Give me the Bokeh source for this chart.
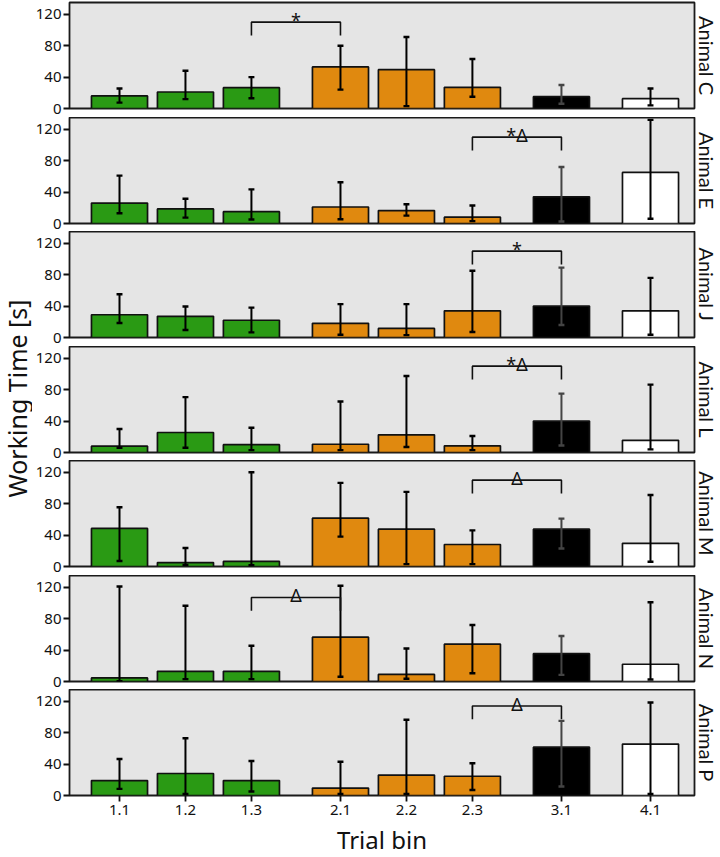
import math
from bokeh.plotting import figure
from bokeh.layouts import column, row
from bokeh.models import Range1d, FixedTicker, Title, ColumnDataSource
from bokeh.embed import file_html
from bokeh.resources import INLINE
from bokeh.core.properties import value

# ---------------- data ----------------
bins = ["1.1", "1.2", "1.3", "2.1", "2.2", "2.3", "3.1", "4.1"]
animals = ["Animal C", "Animal E", "Animal J", "Animal L", "Animal M", "Animal N", "Animal P"]
bar_colors = ["#2a9a14", "#2a9a14", "#2a9a14", "#e0890f", "#e0890f", "#e0890f", "#000000", "#ffffff"]
whisker_colors = ["#000000"] * 6 + ["#444444", "#000000"]
y_ticks = [0, 40, 80, 120]

c_val = [16, 21, 26.5, 53, 49.5, 27, 15, 12.5]
c_lo = [7.5, 12, 13, 24, 3, 15, 6, 4]
c_hi = [25.5, 48, 40, 80, 91, 63, 30, 25.5]

e_val = [26, 18.5, 15, 21, 16.5, 8, 34, 65]
e_lo = [13, 7.5, 5, 5.5, 10, 3, 2.5, 6]
e_hi = [61, 31.5, 43.5, 52.5, 24.5, 23, 72, 132]

j_val = [29, 27, 22, 18, 11.5, 34, 40, 34]
j_lo = [18.5, 9.5, 6.5, 3.5, 3, 7, 16, 3.5]
j_hi = [55, 39.5, 38, 42.5, 42.5, 85, 89, 76]

l_val = [8, 25.5, 10, 10.5, 22.5, 8.5, 40, 15.5]
l_lo = [6, 6, 3, 3, 7, 3, 9, 4]
l_hi = [30, 70.5, 31.5, 65, 97.5, 21, 75, 86.5]

m_val = [48.5, 5, 6.5, 61.5, 47.5, 28, 47.5, 29.5]
m_lo = [7, 2, 1.5, 38, 3, 3, 23, 6]
m_hi = [75.5, 23.5, 120, 106.5, 95, 46, 61, 91]

n_val = [4.5, 13, 13, 56.5, 9, 47.5, 35.5, 22]
n_lo = [0.5, 3, 3, 6, 3.5, 10.5, 8.5, 2.5]
n_hi = [121, 96.5, 45.5, 122, 42, 72, 58, 101]

p_val = [19, 28, 19, 9.5, 26, 24.5, 61.5, 65.5]
p_lo = [8.5, 2, 5, 2, 2, 7, 11.5, 2]
p_hi = [46.5, 73, 44, 43, 96.5, 41, 95, 118.5]

# significance brackets: (from bin, to bin, symbol, bracket height)
sig_c = ("1.3", "2.1", "*", 110)
sig_e = ("2.3", "3.1", "*\u0394", 110)
sig_j = ("2.3", "3.1", "*", 110)
sig_l = ("2.3", "3.1", "*\u0394", 110)
sig_m = ("2.3", "3.1", "\u0394", 110)
sig_n = ("1.3", "2.1", "\u0394", 107)
sig_p = ("2.3", "3.1", "\u0394", 114)

panels = [
    (c_val, c_lo, c_hi, sig_c),
    (e_val, e_lo, e_hi, sig_e),
    (j_val, j_lo, j_hi, sig_j),
    (l_val, l_lo, l_hi, sig_l),
    (m_val, m_lo, m_hi, sig_m),
    (n_val, n_lo, n_hi, sig_n),
    (p_val, p_lo, p_hi, sig_p),
]

# ---------------- layout helpers ----------------
GROUP_GAP = 0.35
positions = [i + GROUP_GAP * (int(b.split(".")[0]) - 1) for i, b in enumerate(bins)]
pos_of = dict(zip(bins, positions))

TICK_FONT = "'Noto Sans', sans-serif"
LABEL_FONT = "'Noto Sans', sans-serif"
SIDE_FONT = "Lato, 'Noto Sans', sans-serif"
FRAME_W = 625
FRAME_H = 106
GAPS = [9, 8, 9, 8, 9, 8]
BAR_W = 0.85
CAP = 0.045
STRIP_W = 32
BORDER_L = 34

figs = []
for k, (vals, lo, hi, sig) in enumerate(panels):
    last = k == len(panels) - 1
    p = figure(
        frame_width=FRAME_W, frame_height=FRAME_H,
        x_range=Range1d(-0.758, positions[-1] + 0.667),
        y_range=Range1d(0, 135),
        output_backend="svg", toolbar_location=None,
        x_axis_location="below" if last else None,
        min_border_left=BORDER_L, min_border_right=0,
        min_border_top=2 if k == 0 else 0,
        min_border_bottom=0 if last else GAPS[k],
    )
    p.background_fill_color = "#e5e5e5"
    p.border_fill_color = "white"
    p.outline_line_color = "#1a1a1a"
    p.outline_line_width = 1.8
    p.xgrid.visible = False
    p.ygrid.visible = False

    src = ColumnDataSource(dict(
        x=positions, top=vals, lo=lo, hi=hi,
        color=bar_colors, wcolor=whisker_colors,
        cl=[x - CAP for x in positions], cr=[x + CAP for x in positions],
    ))
    p.vbar(x="x", top="top", width=BAR_W, source=src, fill_color="color",
           line_color="#111111", line_width=1.7)
    p.segment(x0="x", y0="lo", x1="x", y1="hi", source=src, line_color="wcolor", line_width=2)
    p.segment(x0="cl", y0="hi", x1="cr", y1="hi", source=src, line_color="wcolor", line_width=2.4)
    p.segment(x0="cl", y0="lo", x1="cr", y1="lo", source=src, line_color="wcolor", line_width=2.4)

    a, b, sym, h = sig
    xa, xb = pos_of[a], pos_of[b]
    p.multi_line(xs=[[xa, xa, xb, xb]], ys=[[h - 17, h, h, h - 17]],
                 line_color="#111111", line_width=1.6)
    p.text(x=[(xa + xb) / 2], y=[h + 3], text=[sym], text_align="center",
           text_baseline="alphabetic", text_font_size="18px",
           text_font=value(LABEL_FONT), text_color="#111111")

    yax = p.yaxis[0]
    yax.ticker = FixedTicker(ticks=y_ticks)
    yax.minor_tick_line_color = None
    yax.axis_line_color = None
    yax.major_tick_out = 6
    yax.major_tick_in = 0
    yax.major_tick_line_width = 1.8
    yax.major_tick_line_color = "#111111"
    yax.major_label_text_font = TICK_FONT
    yax.major_label_text_font_size = "15px"
    yax.major_label_text_line_height = 0.9
    yax.major_label_text_color = "#111111"
    yax.major_label_standoff = 2

    if last:
        xax = p.xaxis[0]
        xax.ticker = FixedTicker(ticks=positions)
        xax.major_label_overrides = {x: b for x, b in zip(positions, bins)}
        xax.major_tick_line_color = "#111111"
        xax.major_tick_line_width = 1.8
        xax.minor_tick_line_color = None
        xax.axis_line_color = None
        xax.major_tick_out = 6
        xax.major_tick_in = 0
        xax.major_label_standoff = 3
        xax.major_label_text_font = TICK_FONT
        xax.major_label_text_font_size = "15px"
        xax.major_label_text_color = "#111111"
        xax.axis_label = "Trial bin"
        xax.axis_label_text_font = LABEL_FONT
        xax.axis_label_text_font_style = "normal"
        xax.axis_label_text_font_size = "24px"
        xax.axis_label_standoff = 5
        xax.axis_label_text_color = "#111111"

    p.add_layout(Title(text=animals[k], align="center", text_font=SIDE_FONT,
                       text_font_size="20px", text_font_style="normal",
                       text_color="#111111", standoff=1, offset=0), "right")
    figs.append(p)

# shared y-axis label in its own narrow strip
lab = figure(width=STRIP_W, height=600, x_range=Range1d(0, STRIP_W), y_range=Range1d(600, 0),
             output_backend="svg", toolbar_location=None,
             x_axis_location=None, y_axis_location=None, min_border=0)
lab.outline_line_color = None
lab.xgrid.visible = False
lab.ygrid.visible = False
lab.text(x=[STRIP_W / 2], y=[398], text=["Working Time [s]"], angle=math.pi / 2,
         text_align="center", text_baseline="middle", text_font_size="25px",
         text_font=value(LABEL_FONT), text_color="#111111")

layout = row(lab, column(*figs, spacing=0), spacing=0)
open("out.html", "w").write(file_html(layout, INLINE))
